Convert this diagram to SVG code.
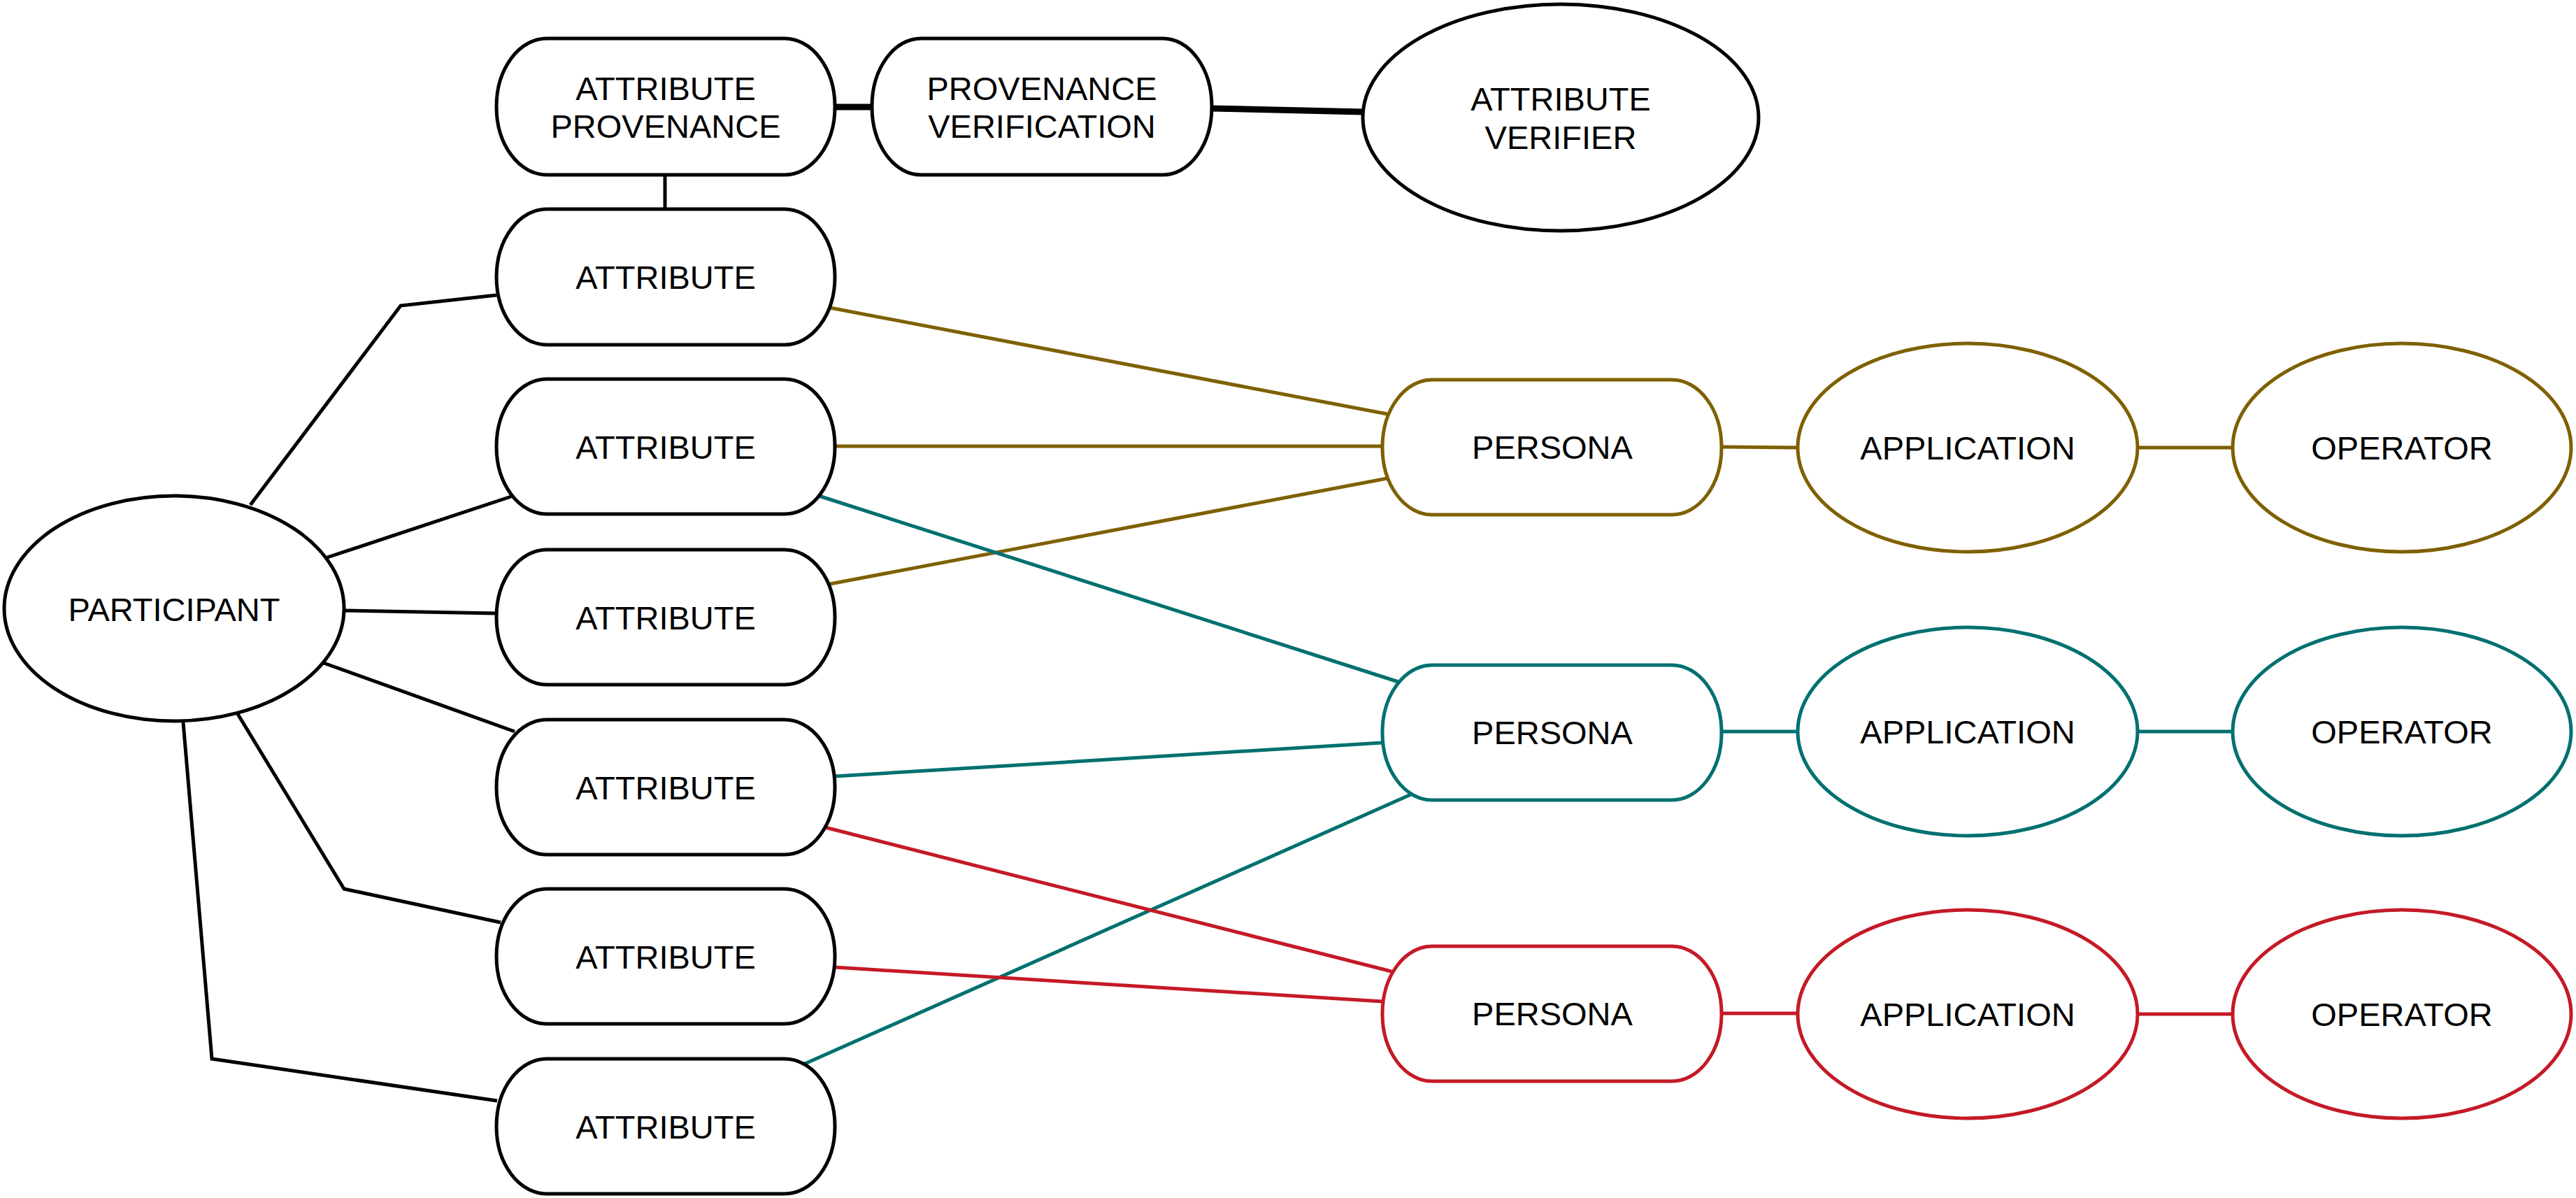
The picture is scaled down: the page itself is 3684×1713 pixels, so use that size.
<svg xmlns="http://www.w3.org/2000/svg" width="3684" height="1713" viewBox="0 0 3684 1713">
<style>
.n{fill:#fff;stroke:#000;stroke-width:5}
.g{stroke:#7F6000}
.t{stroke:#007070}
.r{stroke:#C41A26}
.lbl{font-family:"Liberation Sans",Arial,Helvetica,sans-serif;font-size:47px;fill:#000;text-anchor:middle}
.c{fill:none;stroke-width:5;stroke-linejoin:miter}
.k{stroke:#000}
.thick{stroke-width:9}
</style>
<rect width="3684" height="1713" fill="#fff"/>
<g id="connectors">
<line class="c k" x1="951" y1="250" x2="951" y2="299"/>
<line class="c k thick" x1="1194" y1="153" x2="1247" y2="153"/>
<line class="c k thick" x1="1733" y1="155" x2="1950" y2="160"/>
<polyline class="c k" points="358,722 573,437 710,422"/>
<line class="c k" x1="468" y1="797" x2="731" y2="710"/>
<line class="c k" x1="492" y1="873" x2="709" y2="877"/>
<line class="c k" x1="463" y1="948" x2="736" y2="1046"/>
<polyline class="c k" points="340,1021 492,1271 716,1319"/>
<polyline class="c k" points="262,1033 303,1514 711,1574"/>
<line class="c g" x1="1187" y1="440" x2="1984" y2="592"/>
<line class="c g" x1="1196" y1="638" x2="1977" y2="638"/>
<line class="c g" x1="1187" y1="835" x2="1984" y2="684"/>
<line class="c t" x1="1171" y1="709" x2="2000" y2="975"/>
<line class="c t" x1="1194" y1="1110" x2="1977" y2="1062"/>
<line class="c t" x1="1151" y1="1521" x2="2020" y2="1135"/>
<line class="c r" x1="1180" y1="1183" x2="1990" y2="1389"/>
<line class="c r" x1="1194" y1="1383" x2="1977" y2="1432"/>
<line class="c g" x1="2462" y1="639" x2="2571" y2="640"/>
<line class="c g" x1="3057" y1="640" x2="3193" y2="640"/>
<line class="c t" x1="2462" y1="1046" x2="2571" y2="1046"/>
<line class="c t" x1="3057" y1="1046" x2="3193" y2="1046"/>
<line class="c r" x1="2462" y1="1449" x2="2571" y2="1449"/>
<line class="c r" x1="3057" y1="1450" x2="3193" y2="1450"/>
</g>
<g id="attribute-provenance"><rect class="n" x="710" y="55" width="484" height="195" rx="72" ry="97"/><text class="lbl" x="952" y="143">ATTRIBUTE</text><text class="lbl" x="952" y="197">PROVENANCE</text></g>
<g id="provenance-verification"><rect class="n" x="1247" y="55" width="486" height="195" rx="70" ry="97"/><text class="lbl" x="1490" y="143">PROVENANCE</text><text class="lbl" x="1490" y="197">VERIFICATION</text></g>
<g id="attribute-verifier"><ellipse class="n" cx="2232" cy="168" rx="283" ry="162"/><text class="lbl" x="2232" y="158">ATTRIBUTE</text><text class="lbl" x="2232" y="213">VERIFIER</text></g>
<g id="participant"><ellipse class="n" cx="249" cy="870" rx="243" ry="161"/><text class="lbl" x="249" y="888">PARTICIPANT</text></g>
<g id="attribute-1"><rect class="n" x="710" y="299" width="484" height="194" rx="72" ry="97"/><text class="lbl" x="952" y="413">ATTRIBUTE</text></g>
<g id="attribute-2"><rect class="n" x="710" y="542" width="484" height="193" rx="72" ry="96"/><text class="lbl" x="952" y="656">ATTRIBUTE</text></g>
<g id="attribute-3"><rect class="n" x="710" y="786" width="484" height="193" rx="72" ry="96"/><text class="lbl" x="952" y="900">ATTRIBUTE</text></g>
<g id="attribute-4"><rect class="n" x="710" y="1029" width="484" height="193" rx="72" ry="96"/><text class="lbl" x="952" y="1143">ATTRIBUTE</text></g>
<g id="attribute-5"><rect class="n" x="710" y="1271" width="484" height="193" rx="72" ry="96"/><text class="lbl" x="952" y="1385">ATTRIBUTE</text></g>
<g id="attribute-6"><rect class="n" x="710" y="1514" width="484" height="193" rx="72" ry="96"/><text class="lbl" x="952" y="1628">ATTRIBUTE</text></g>
<g id="persona-1"><rect class="n g" x="1977" y="543" width="485" height="193" rx="71" ry="96"/><text class="lbl" x="2220" y="656">PERSONA</text></g>
<g id="application-1"><ellipse class="n g" cx="2814" cy="640" rx="243" ry="149"/><text class="lbl" x="2814" y="657">APPLICATION</text></g>
<g id="operator-1"><ellipse class="n g" cx="3435" cy="640" rx="242" ry="149"/><text class="lbl" x="3435" y="657">OPERATOR</text></g>
<g id="persona-2"><rect class="n t" x="1977" y="951" width="485" height="193" rx="71" ry="96"/><text class="lbl" x="2220" y="1064">PERSONA</text></g>
<g id="application-2"><ellipse class="n t" cx="2814" cy="1046" rx="243" ry="149"/><text class="lbl" x="2814" y="1063">APPLICATION</text></g>
<g id="operator-2"><ellipse class="n t" cx="3435" cy="1046" rx="242" ry="149"/><text class="lbl" x="3435" y="1063">OPERATOR</text></g>
<g id="persona-3"><rect class="n r" x="1977" y="1353" width="485" height="193" rx="71" ry="96"/><text class="lbl" x="2220" y="1466">PERSONA</text></g>
<g id="application-3"><ellipse class="n r" cx="2814" cy="1450" rx="243" ry="149"/><text class="lbl" x="2814" y="1467">APPLICATION</text></g>
<g id="operator-3"><ellipse class="n r" cx="3435" cy="1450" rx="242" ry="149"/><text class="lbl" x="3435" y="1467">OPERATOR</text></g>
</svg>
